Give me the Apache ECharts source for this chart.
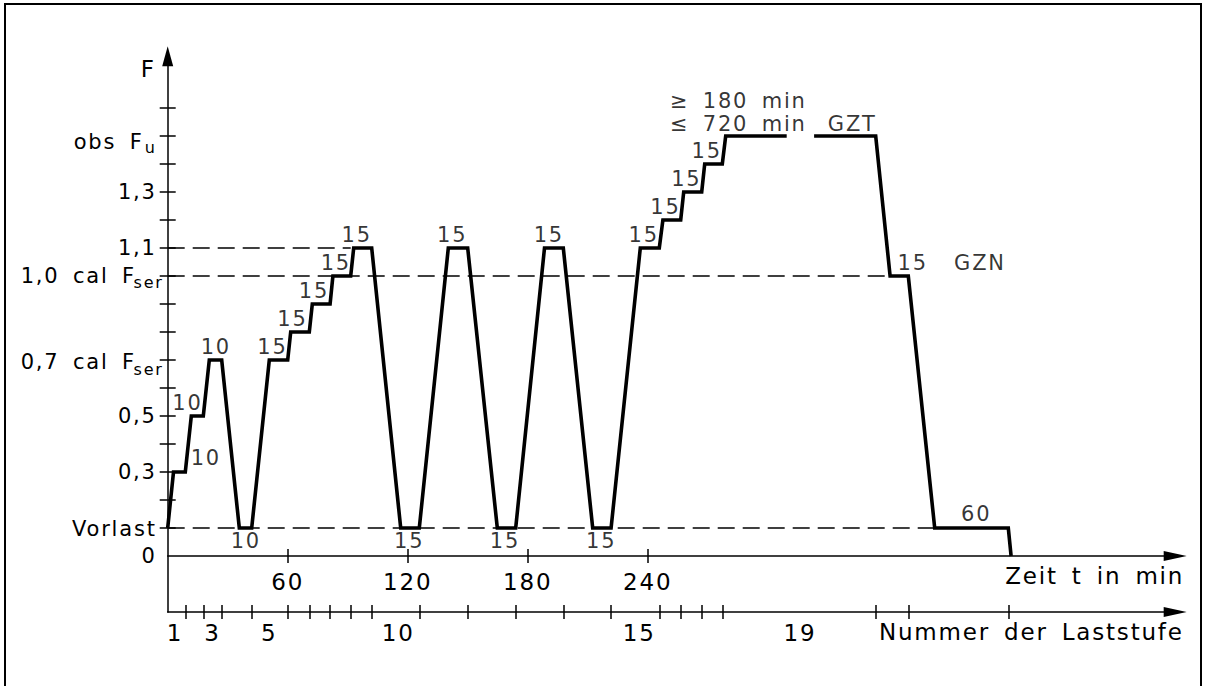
<!DOCTYPE html>
<html>
<head>
<meta charset="utf-8">
<script src="https://cdn.jsdelivr.net/npm/echarts@6/dist/echarts.min.js"></script>
<style>
html,body{margin:0;padding:0;background:#fff;}
#wrap{position:relative;width:1207px;height:686px;overflow:hidden;background:#fff;}
#chart{position:absolute;left:0;top:0;width:1207px;height:686px;}
#frame{position:absolute;left:4px;top:3px;width:1194px;height:700px;border:2px solid #000;pointer-events:none;}
#chart text{letter-spacing:1.8px;word-spacing:5px;}
</style>
</head>
<body>
<div id="wrap"><div id="chart"></div><div id="frame"></div></div>
<script>
// ---------------- data ----------------
// load curve: time in minutes, load level in tenths of cal F_ser (null = gap in the line)
const curveT = [0, 2.9, 8.8, 11.8, 17.8, 20.8, 27.0, 35.8, 42.0, 50.8, 60.0, 61.5, 70.8, 72.3, 81.2, 82.6, 91.5, 93.0,
  102.0, 116.5, 125.8, 140.3, 150.0, 164.8, 174.0, 188.4, 197.8, 212.5, 221.7, 236.3, 245.8, 247.6, 256.5, 258.0,
  267.0, 268.5, 277.3, 279.0, 309.5, 316.0, 323.2, 354.0, 361.2, 370.3, 383.5, 420.3, 421.7];
const curveF = [1, 3, 3, 5, 5, 7, 7, 1, 1, 7, 7, 8, 8, 9, 9, 10, 10, 11,
  11, 1, 1, 11, 11, 1, 1, 11, 11, 1, 1, 11, 11, 12, 12, 13,
  13, 14, 14, 15, 15, null, 15, 15, 10, 10, 1, 1, 0];

// horizontal dashed reference lines
const dashF = [11, 10, 1];
const dashEndT = [91.5, 361.2, 383.5];

// time axis ticks
const timeTicks = [60, 120, 180, 240];

// load-step axis: step boundaries and step numbers
const stageBounds = [9.0, 17.8, 27.0, 42.0, 60.0, 70.8, 81.2, 91.5, 102.0, 125.8, 150.0, 174.0, 197.8, 221.7,
  245.8, 256.5, 267.0, 277.3, 354.2, 370.3, 420.3];
const stageLabelT = [3.65, 22.4, 50.75, 115.3, 235.75, 316.15];
const stageLabels = ['1', '3', '5', '10', '15', '19'];

// force axis ticks and labels
const fTicks = [1, 2, 3, 4, 5, 6, 7, 8, 9, 10, 11, 12, 13, 14, 15, 16];
const fLabelValues = [0, 1, 3, 5, 7, 10, 11, 13, 15];
const fLabelMain = ['0', 'Vorlast', '0,3', '0,5', '0,7 cal F', '1,0 cal F', '1,1', '1,3', 'obs F'];
const fLabelSub = ['', '', '', '', 'ser', 'ser', '', '', 'u'];

// duration annotations on the curve
const annText = ['10', '10', '10', '10', '15', '15', '15', '15', '15', '15', '15', '15', '15', '15', '15',
  '15', '15', '15', '15', 'GZN', '60', 'GZT', '\u2265 180 min', '\u2264 720 min'];
const annT = [9.9, 19.05, 24.05, 39.05, 52.4, 62.4, 73.15, 84.05, 94.5, 142.25, 190.55, 238.0, 248.9, 259.3, 269.5,
  120.75, 168.65, 216.75, 372.5, 406.15, 404.25, 342.3, 285.3, 285.3];
const annF = [5.46, 3.49, 7.46, 0.55, 7.46, 8.48, 9.48, 10.47, 11.46, 11.46, 11.46, 11.46, 12.45, 13.46, 14.46,
  0.54, 0.54, 0.54, 10.47, 10.47, 1.51, 15.44, 16.26, 15.44];

// ---------------- chart ----------------
const FONT = 'DejaVu Sans';
const BLACK = '#000';

// label style keys (presentation only)
const fLabelStyle = ['p', 'v', 'p', 'p', 'c7', 'c10', 'p', 'p', 'o'];
const subStyleOf = { c7: 's7', c10: 's10', o: 'ou' };
function tok(d, H, fs, rightPad) {
  const top = H / 2 - fs / 2 + d;
  return { fontSize: fs, fontFamily: FONT, color: BLACK, padding: [top, rightPad, H - fs - top, 0] };
}
const yRich = {
  p: tok(0, 21, 21, 7),
  v: tok(1, 23, 21, 7),
  c7: tok(2.4, 34.4, 21, 3), s7: tok(9.2, 34.4, 16, 0),
  c10: tok(0, 29, 21, 3), s10: tok(6.5, 29, 16, 0),
  o: tok(6, 38, 21, 3), ou: tok(11, 38, 16, 7)
};

const curveData = curveT.map((t, i) => [t, curveF[i] == null ? '-' : curveF[i]]);
const annData = annT.map((t, i) => [t, annF[i], annText[i]]);

const tMax = 503.75, fMin = -2, fMax = 17.85;
const axisLineStyle = { color: BLACK, width: 1.5 };
const zeroOffset = -56; // time axis sits on F = 0

function xAxisBase(extra) {
  return Object.assign({
    type: 'value', min: 0, max: tMax, position: 'bottom',
    splitLine: { show: false }, minorTick: { show: false }
  }, extra);
}
function yAxisBase(extra) {
  return Object.assign({
    type: 'value', min: fMin, max: fMax, position: 'left',
    splitLine: { show: false }, minorTick: { show: false }
  }, extra);
}

const option = {
  animation: false,
  backgroundColor: '#fff',
  textStyle: { fontFamily: FONT, color: BLACK },
  grid: { left: 167.7, right: 31.8, top: 56.2, bottom: 74, outerBoundsMode: 'none', containLabel: false },
  xAxis: [
    xAxisBase({
      offset: zeroOffset,
      axisLine: { show: true, onZero: false, symbol: ['none', 'triangle'], symbolSize: [10, 23], lineStyle: axisLineStyle },
      axisTick: { show: true, inside: false, length: 7, customValues: timeTicks, lineStyle: axisLineStyle },
      axisLabel: { show: true, customValues: timeTicks, fontSize: 23, fontFamily: FONT, color: BLACK, margin: 14, hideOverlap: false,
        formatter: v => String(v) },
      name: 'Zeit t in min', nameLocation: 'end', nameGap: 9,
      nameTextStyle: { fontSize: 23, fontFamily: FONT, color: BLACK, align: 'right', verticalAlign: 'top', padding: [8, 0, 0, 0] }
    }),
    xAxisBase({
      offset: zeroOffset,
      axisLine: { show: false, onZero: false },
      axisTick: { show: true, inside: true, length: 7, customValues: timeTicks, lineStyle: axisLineStyle },
      axisLabel: { show: false }
    }),
    xAxisBase({
      axisLine: { show: true, onZero: false, symbol: ['none', 'triangle'], symbolSize: [10, 23], lineStyle: axisLineStyle },
      axisTick: { show: true, inside: false, length: 7, customValues: stageBounds, lineStyle: axisLineStyle },
      axisLabel: { show: true, customValues: stageLabelT, fontSize: 23, fontFamily: FONT, color: BLACK, margin: 9, hideOverlap: false,
        formatter: v => { const i = stageLabelT.indexOf(v); return i < 0 ? '' : stageLabels[i]; } },
      name: 'Nummer der Laststufe', nameLocation: 'end', nameGap: 8.5,
      nameTextStyle: { fontSize: 23, fontFamily: FONT, color: BLACK, align: 'right', verticalAlign: 'top', padding: [8.5, 0, 0, 0] }
    }),
    xAxisBase({
      axisLine: { show: false, onZero: false },
      axisTick: { show: true, inside: true, length: 7, customValues: stageBounds, lineStyle: axisLineStyle },
      axisLabel: { show: false }
    })
  ],
  yAxis: [
    yAxisBase({
      axisLine: { show: true, onZero: false, symbol: ['none', 'triangle'], symbolSize: [11, 20], lineStyle: axisLineStyle },
      axisTick: { show: true, inside: false, length: 8, customValues: fTicks, lineStyle: axisLineStyle },
      axisLabel: { show: true, customValues: fLabelValues, margin: 4, hideOverlap: false, rich: yRich,
        formatter: v => {
          const i = fLabelValues.indexOf(v);
          if (i < 0) return '';
          const k = fLabelStyle[i];
          let s = '{' + k + '|' + fLabelMain[i] + '}';
          if (fLabelSub[i]) s += '{' + subStyleOf[k] + '|' + fLabelSub[i] + '}';
          return s;
        } },
      name: 'F', nameLocation: 'end', nameGap: -12.3,
      nameTextStyle: { fontSize: 23, fontFamily: FONT, color: BLACK, align: 'right', verticalAlign: 'middle', padding: [0, 12, 0, 0] }
    }),
    yAxisBase({
      axisLine: { show: false, onZero: false },
      axisTick: { show: true, inside: true, length: 8, customValues: fTicks, lineStyle: axisLineStyle },
      axisLabel: { show: false }
    })
  ],
  series: [
    ...dashF.map((f, i) => ({
      type: 'line', xAxisIndex: 0, yAxisIndex: 0, silent: true, z: 1,
      symbol: 'none', showSymbol: false,
      data: [[0, f], [dashEndT[i], f]],
      lineStyle: { color: BLACK, width: 1.5, type: [17, 8] }
    })),
    {
      type: 'line', xAxisIndex: 0, yAxisIndex: 0, silent: true, z: 3,
      symbol: 'none', showSymbol: false, connectNulls: false,
      data: curveData,
      lineStyle: { color: BLACK, width: 3.6, join: 'miter', cap: 'butt' }
    },
    {
      type: 'scatter', xAxisIndex: 0, yAxisIndex: 0, silent: true, z: 4,
      symbolSize: 0.1, itemStyle: { color: 'rgba(0,0,0,0)' },
      data: annData,
      label: { show: true, position: 'inside', fontSize: 21, fontFamily: FONT, color: BLACK,
        formatter: p => p.data[2] }
    }
  ]
};

const chart = echarts.init(document.getElementById('chart'), null, { renderer: 'svg', width: 1207, height: 686 });
chart.setOption(option);
</script>
</body>
</html>
